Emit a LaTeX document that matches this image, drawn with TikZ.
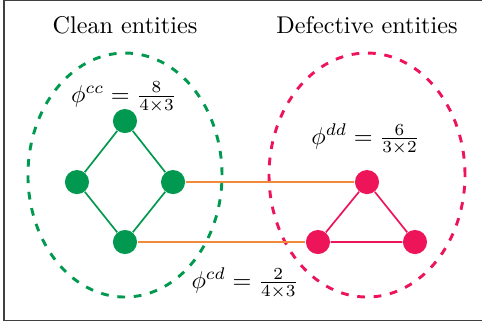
\documentclass[tikz,border=0pt]{standalone}
\usepackage{tikz}
\usetikzlibrary{positioning}
\definecolor{cleangreen}{HTML}{00994F}
\definecolor{defred}{HTML}{EE1459}
\definecolor{linkorange}{HTML}{F28A3C}
\begin{document}
\begin{tikzpicture}[
    gnode/.style={circle, fill=cleangreen, minimum size=0.35cm, inner sep=0pt},
    rnode/.style={circle, fill=defred, minimum size=0.35cm, inner sep=0pt},
    gedge/.style={draw=cleangreen, line width=0.7pt},
    redge/.style={draw=defred, line width=0.7pt},
    link/.style={draw=linkorange, line width=0.8pt},
    ring/.style={dash pattern=on 3.2pt off 3.6pt, line width=1.2pt}
  ]
    \useasboundingbox (0,0) rectangle (7,4.706);
    \draw[black!75, line width=0.6pt] (0.06,0.05) rectangle (7.2,4.70);

    \node[anchor=base] (cleantitle) at (1.815,4.226) {Clean entities};
    \node[anchor=base] (deftitle)   at (5.330,4.226) {Defective entities};

    \draw[ring, cleangreen] (1.815,2.164) ellipse (1.409 and 1.772);
    \draw[ring, defred]     (5.330,2.164) ellipse (1.423 and 1.772);

    \node[gnode] (ctop)    at (1.815,2.948) {};
    \node[gnode] (cleft)   at (1.118,2.062) {};
    \node[gnode] (cright)  at (2.513,2.062) {};
    \node[gnode] (cbottom) at (1.815,1.191) {};

    \node[rnode] (dtop)   at (5.330,2.062) {};
    \node[rnode] (dleft)  at (4.618,1.191) {};
    \node[rnode] (dright) at (6.027,1.191) {};

    \draw[gedge] (ctop) -- (cleft) -- (cbottom) -- (cright) -- (ctop);
    \draw[redge] (dtop) -- (dleft) -- (dright) -- (dtop);
    \draw[link]  (cright) -- (dtop);
    \draw[link]  (cbottom) -- (dleft);

    \node (phicc) at (1.800,3.297) {$\phi^{cc} = \frac{8}{4\times 3}$};
    \node (phidd) at (5.308,2.680) {$\phi^{dd} = \frac{6}{3\times 2}$};
    \node (phicd) at (3.558,0.588) {$\phi^{cd} = \frac{2}{4\times 3}$};
  \end{tikzpicture}
\end{document}
